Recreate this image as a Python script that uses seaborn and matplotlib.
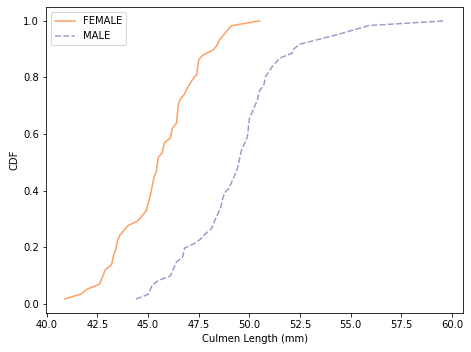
import numpy as np
import pandas as pd
import matplotlib
matplotlib.use("Agg")
import matplotlib.pyplot as plt
import seaborn as sns

female = [46.1, 48.7, 46.5, 45.4, 43.3, 40.9, 45.5, 45.8, 42.0, 46.2, 45.1, 46.5, 42.9, 48.2,
          42.8, 45.1, 49.1, 42.6, 44.0, 42.7, 45.3, 43.6, 45.5, 44.9, 46.6, 45.1, 46.5, 43.8,
          43.2, 45.3, 45.7, 45.8, 43.5, 47.7, 46.5, 46.4, 47.5, 45.2, 49.1, 47.4, 44.9, 43.4,
          47.5, 47.5, 45.5, 44.5, 46.9, 48.4, 48.5, 47.2, 41.7, 43.3, 50.5, 43.5, 46.2, 47.2,
          46.8, 45.2]
male = [50.0, 50.0, 47.6, 46.7, 46.8, 49.0, 48.4, 49.3, 49.2, 48.7, 50.2, 46.3, 46.1, 47.8,
        50.0, 47.3, 59.6, 48.4, 44.4, 48.7, 49.6, 49.6, 50.5, 50.5, 45.2, 48.5, 50.1, 45.0,
        45.5, 50.4, 46.2, 54.3, 49.8, 49.5, 50.7, 46.4, 48.2, 48.6, 51.1, 45.2, 52.5, 50.0,
        50.8, 51.3, 52.1, 52.2, 49.5, 50.8, 49.4, 51.1, 55.9, 49.1, 46.8, 53.4, 48.1, 49.8,
        51.5, 55.1, 48.8, 50.4, 49.9]
groups = ["FEMALE", "MALE"]
colors = ["#fd9f62", "#9e9ac8"]

frames = []
for g, vals in zip(groups, [female, male]):
    xs = np.sort(np.array(vals))
    ys = np.searchsorted(xs, xs, side="right") / len(xs)
    frames.append(pd.DataFrame({"x": xs, "cdf": ys, "sex": g}))
df = pd.concat(frames, ignore_index=True)

fig = plt.figure(figsize=(471 / 72, 352 / 72), dpi=72)
ax = fig.add_axes([46 / 471, 1 - 313 / 352, (463 - 46) / 471, (313 - 7) / 352])
sns.lineplot(data=df, x="x", y="cdf", hue="sex", style="sex",
             palette=dict(zip(groups, colors)), hue_order=groups, style_order=groups,
             estimator=None, linewidth=1.5, ax=ax)
leg = ax.get_legend()
handles = leg.legend_handles
labels = [t.get_text() for t in leg.get_texts()]
leg.remove()
ax.legend(handles, labels, loc="upper left")
ax.set_xlabel("Culmen Length (mm)")
ax.set_ylabel("CDF")
fig.savefig("out.png", dpi=72)
